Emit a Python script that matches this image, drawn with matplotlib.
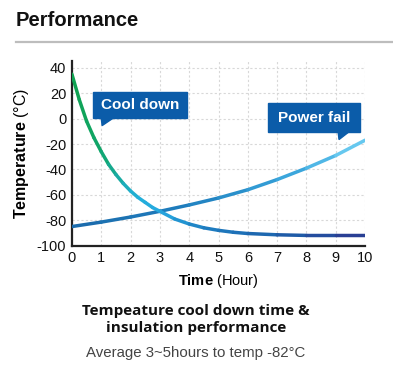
import numpy as np
import matplotlib.pyplot as plt
from matplotlib.collections import LineCollection
from matplotlib.colors import LinearSegmentedColormap
from matplotlib.patches import Rectangle, Polygon

plt.rcParams['font.family'] = ['Liberation Sans', 'DejaVu Sans']
plt.rcParams['mathtext.fontset'] = 'custom'
plt.rcParams['mathtext.rm'] = 'Liberation Sans'
plt.rcParams['mathtext.bf'] = 'Liberation Sans:bold'
plt.rcParams['axes.unicode_minus'] = False

# data
cool_t = [0, 0.25, 0.5, 0.75, 1, 1.25, 1.5, 1.75, 2, 2.25, 2.5, 2.75, 3, 3.5, 4, 4.5, 5, 5.5, 6, 7, 8, 9, 10]
cool_T = [35, 15, -2, -15, -26, -36, -44, -51, -57, -62, -66, -70, -73, -79, -83, -86, -88, -89.5, -90.5, -91.5, -92, -92, -92]
fail_t = [0, 1, 2, 3, 4, 5, 6, 7, 8, 9, 10]
fail_T = [-85, -81.5, -77.5, -73, -68, -62.5, -56, -48, -39, -29, -17]
xticks = list(range(0, 11))
yticks = [40, 20, 0, -20, -40, -60, -80, -100]

fig = plt.figure(figsize=(3.93, 3.66), dpi=100)
ax = fig.add_axes([0.183, 0.329, 0.746, 0.503])

def grad_line(x, y, stops, lw):
    pts = np.array([x, y]).T.reshape(-1, 1, 2)
    segs = np.concatenate([pts[:-1], pts[1:]], axis=1)
    cmap = LinearSegmentedColormap.from_list('g', stops)
    xm = (np.array(x[:-1]) + np.array(x[1:])) / 2
    lc = LineCollection(segs, colors=cmap(xm / 10), linewidths=lw, capstyle='round', zorder=3)
    ax.add_collection(lc)

grad_line(fail_t, fail_T, [(0, '#1b6aab'), (0.4, '#1f7fbf'), (0.75, '#3aa6dc'), (1, '#70d0f4')], 2.5)
grad_line(cool_t, cool_T, [(0, '#0fa24e'), (0.1, '#10a66c'), (0.22, '#22b0d8'), (0.3, '#27a9e1'),
                           (0.45, '#1e7fc2'), (0.7, '#1d62ac'), (1, '#2b3990')], 2.5)

ax.set_xlim(0, 10)
ax.set_ylim(-100, 45)
ax.set_xticks(xticks)
ax.set_yticks(yticks)
ax.tick_params(length=0, labelsize=10.5, pad=4, colors='#111111')
ax.grid(True, color='#d8d8d8', linestyle=(0, (2, 2)), linewidth=0.8)
ax.set_axisbelow(True)
for s in ['top', 'right']:
    ax.spines[s].set_visible(False)
for s in ['left', 'bottom']:
    ax.spines[s].set_linewidth(1.6)
    ax.spines[s].set_color('#222222')

ax.set_ylabel(r'$\mathbf{Temperature}$ (°C)', fontsize=11.5, labelpad=4)
ax.set_xlabel(r'$\mathbf{Time}$ (Hour)', fontsize=10.5, labelpad=5)

# callouts
box_c = '#0b5ca9'
ax.add_patch(Rectangle((0.72, 0.5), 3.2, 20.5, color=box_c, zorder=4))
ax.add_patch(Polygon([(1.0, 0.6), (1.42, 0.6), (1.03, -5.5)], color=box_c, zorder=4))
ax.text(2.32, 10.8, 'Cool down', color='white', fontsize=11, fontweight='bold', ha='center', va='center', zorder=5)

ax.add_patch(Rectangle((6.69, -10.5), 3.14, 22.8, color=box_c, zorder=4))
ax.add_patch(Polygon([(9.08, -10.4), (9.45, -10.4), (9.11, -16.5)], color=box_c, zorder=4))
ax.text(8.26, 0.8, 'Power fail', color='white', fontsize=11, fontweight='bold', ha='center', va='center', zorder=5)

# header and caption
fig.text(16 / 393, 1 - 21 / 366, 'Performance', fontsize=14.5, fontweight='bold', ha='left', va='center', color='#111111')
fig.add_artist(plt.Line2D([16 / 393, 1], [1 - 42 / 366] * 2, color='#bdbdbd', linewidth=1.6))
fig.text(196 / 393, 1 - 311 / 366, 'Tempeature cool down time &', fontsize=11, fontweight='bold',
         family=['Open Sans', 'DejaVu Sans'], ha='center', va='center', color='#111111')
fig.text(196 / 393, 1 - 328 / 366, 'insulation performance', fontsize=11, fontweight='bold',
         family=['Open Sans', 'DejaVu Sans'], ha='center', va='center', color='#111111')
fig.text(196 / 393, 1 - 353 / 366, 'Average 3~5hours to temp -82°C', fontsize=10.8, ha='center', va='center', color='#444444')

fig.savefig('out.png', dpi=100)
